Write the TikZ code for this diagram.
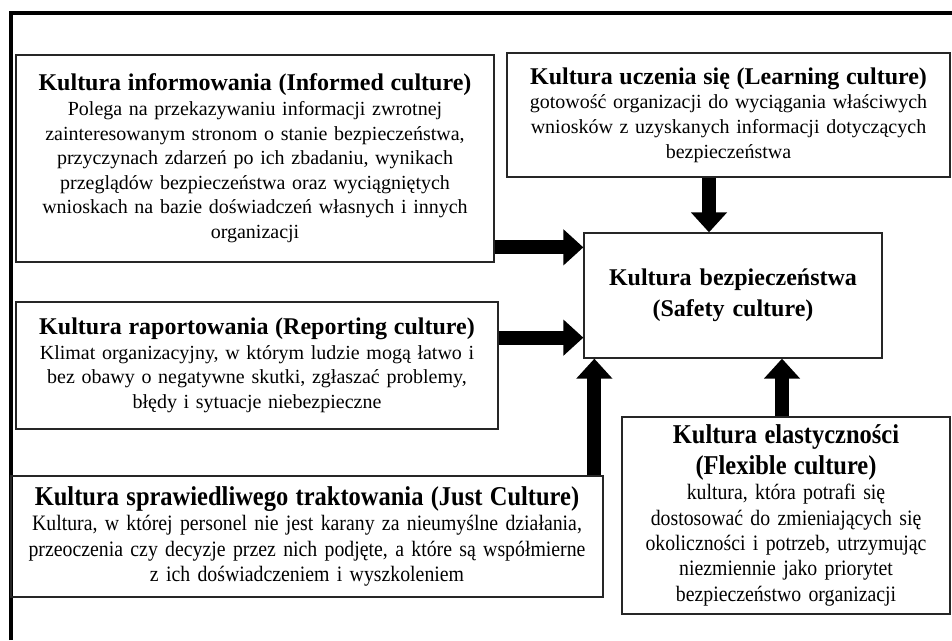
\documentclass[tikz,border=0pt]{standalone}
\usepackage{fontspec}
\setmainfont{Liberation Serif}
\newfontfamily\narrowserif[FakeStretch=0.9]{Liberation Serif}
\usetikzlibrary{arrows.meta,positioning}

\newcommand{\boxtitle}[1]{{\bfseries\fontsize{24}{28}\selectfont #1}}
\newcommand{\narrowtitle}[1]{{\bfseries\fontsize{27.2}{30}\selectfont #1}}

\begin{document}
\begin{tikzpicture}[
    x=1pt, y=-1pt,
    box/.style={draw=black!85, line width=1.3pt, inner xsep=0pt, inner ysep=2pt, align=center, font=\fontsize{20}{24.6}\selectfont},
    narrowbox/.style={box, font=\narrowserif\fontsize{22}{25.4}\selectfont},
    bigarrow/.style={line width=14pt, -{Triangle[length=20pt, width=35pt]}},
]
\useasboundingbox (0,0) rectangle (952,640);

% Frame
\draw[line width=4pt] (11,640) -- (11,13) -- (952,13);

% Culture boxes
\node[box, text width=478pt, minimum height=207pt] (informed) at (255,158.5) {\boxtitle{Kultura informowania (Informed culture)}\\
Polega na przekazywaniu informacji zwrotnej\\
zainteresowanym stronom o stanie bezpieczeństwa,\\
przyczynach zdarzeń po ich zbadaniu, wynikach\\
przeglądów bezpieczeństwa oraz wyciągniętych\\
wnioskach na bazie doświadczeń własnych i innych\\
organizacji};

\node[box, text width=443pt, minimum height=124pt] (learning) at (728.5,115) {\boxtitle{Kultura uczenia się (Learning culture)}\\
gotowość organizacji do wyciągania właściwych\\
wniosków z uzyskanych informacji dotyczących\\
bezpieczeństwa};

\node[box, text width=298pt, minimum height=125pt, font=\bfseries\fontsize{24}{31}\selectfont] (safety) at (733,295.5) {Kultura bezpieczeństwa\\(Safety culture)};

\node[box, text width=482pt, minimum height=127pt] (reporting) at (257,365.5) {\boxtitle{Kultura raportowania (Reporting culture)}\\
Klimat organizacyjny, w którym ludzie mogą łatwo i\\
bez obawy o negatywne skutki, zgłaszać problemy,\\
błędy i sytuacje niebezpieczne};

\node[narrowbox, text width=592pt, minimum height=121pt] (just) at (307,536.5) {\narrowtitle{Kultura sprawiedliwego traktowania (Just Culture)}\\
Kultura, w której personel nie jest karany za nieumyślne działania,\\
przeoczenia czy decyzje przez nich podjęte, a które są współmierne\\
z ich doświadczeniem i wyszkoleniem};

\node[narrowbox, text width=328pt, minimum height=197pt] (flexible) at (786,515.5) {\narrowtitle{Kultura elastyczności}\\[5pt]
\narrowtitle{(Flexible culture)}\\
kultura, która potrafi się\\
dostosować do zmieniających się\\
okoliczności i potrzeb, utrzymując\\
niezmiennie jako priorytet\\
bezpieczeństwo organizacji};

% Arrow ends on the safety box
\coordinate (in1) at ([yshift=-15pt]safety.north west);
\coordinate (in2) at ([yshift=21pt]safety.south west);
\coordinate (in3) at ([xshift=-24pt]safety.north);
\coordinate (in4) at ([xshift=11pt]safety.south west);
\coordinate (in5) at ([xshift=49pt]safety.south);

% Arrows
\draw[bigarrow] (informed.east |- in1) -- (in1);
\draw[bigarrow] (reporting.east |- in2) -- (in2);
\draw[bigarrow] (learning.south -| in3) -- (in3);
\draw[bigarrow] (just.north -| in4) -- (in4);
\draw[bigarrow] (flexible.north -| in5) -- (in5);

\end{tikzpicture}
\end{document}
